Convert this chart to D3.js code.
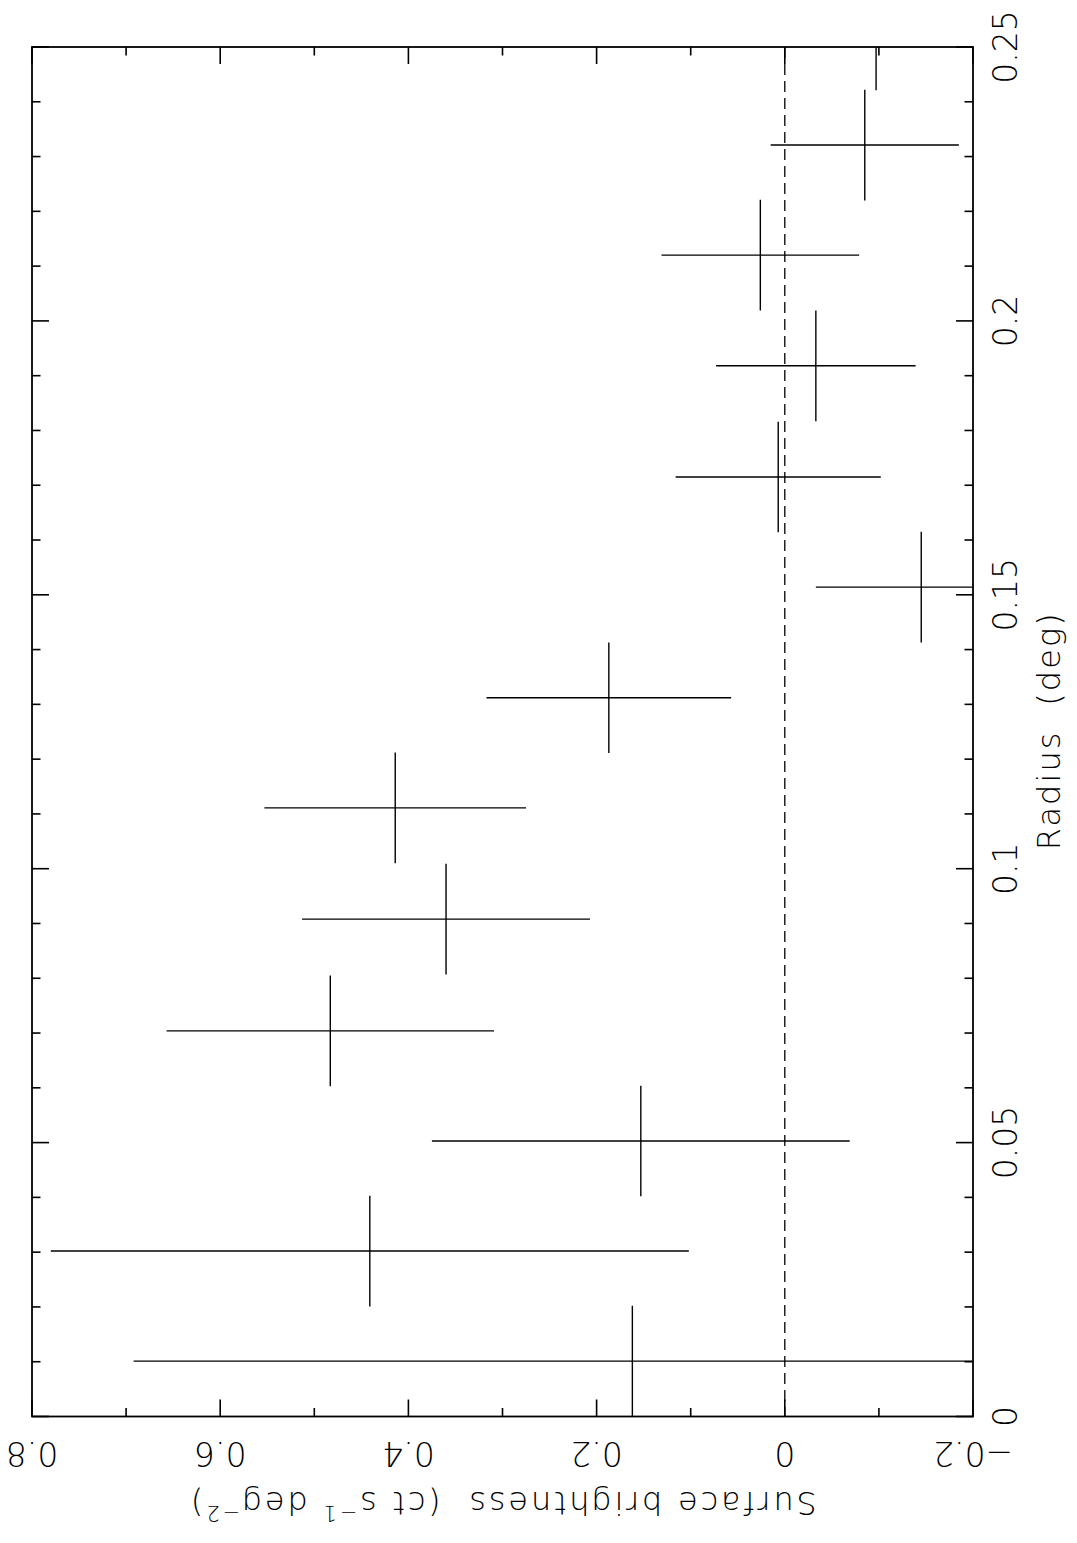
<!DOCTYPE html>
<html>
<head>
<meta charset="utf-8">
<script src="https://cdn.jsdelivr.net/npm/d3@7/dist/d3.min.js"></script>
<style>
  html, body { margin: 0; padding: 0; background: #fff; }
  svg text { font-family: "DejaVu Sans", "Liberation Sans", sans-serif; font-weight: 200; fill: #000; }
</style>
</head>
<body>
<svg id="chart" width="1077" height="1543"></svg>
<script>
// radius bins (deg) and their half widths
var radius = [0.0101, 0.0302, 0.0503, 0.0704, 0.0908, 0.1111, 0.1312, 0.1514, 0.1715, 0.1918, 0.2120, 0.2321, 0.2522];
var radiusErr = [0.0101, 0.0101, 0.0101, 0.0101, 0.0101, 0.0101, 0.0101, 0.0101, 0.0101, 0.0101, 0.0101, 0.0101, 0.0101];
// surface brightness (ct s^-1 deg^-2) and errors
var brightness = [0.162, 0.441, 0.153, 0.483, 0.360, 0.414, 0.187, -0.145, 0.007, -0.033, 0.026, -0.085, -0.097];
var brightnessErr = [0.530, 0.339, 0.222, 0.174, 0.153, 0.139, 0.130, 0.112, 0.109, 0.106, 0.105, 0.100, 0.100];

var radiusTicks = [0, 0.05, 0.1, 0.15, 0.2, 0.25];
var radiusLabels = ["0", "0.05", "0.1", "0.15", "0.2", "0.25"];
var brightTicks = [-0.2, 0, 0.2, 0.4, 0.6, 0.8];
var brightLabels = ["\u22120.2", "0", "0.2", "0.4", "0.6", "0.8"];

(function() {
	var svg = d3.select("#chart");

	// the plot is drawn turned on its side: radius runs up the page,
	// brightness runs right-to-left
	var fLeft = 32, fRight = 973, fTop = 47, fBottom = 1416.5;
	var yR = d3.scaleLinear().domain([0, 0.25]).range([fBottom, fTop]);
	var xB = d3.scaleLinear().domain([-0.2, 0.8]).range([fRight, fLeft]);

	svg.append("clipPath").attr("id", "frame")
		.append("rect")
		.attr("x", fLeft).attr("y", fTop)
		.attr("width", fRight - fLeft).attr("height", fBottom - fTop);

	var minorLen = 8.5, majorLen = 17;

	// radius ticks (left and right edges)
	var rt = svg.append("g").attr("stroke", "#000").attr("stroke-width", 1.6);
	d3.range(0, 0.2501, 0.01).forEach(function(v) {
		var isMajor = Math.abs(v / 0.05 - Math.round(v / 0.05)) < 1e-6;
		var len = isMajor ? majorLen : minorLen;
		var y = yR(v);
		rt.append("line").attr("x1", fLeft).attr("x2", fLeft + len).attr("y1", y).attr("y2", y);
		rt.append("line").attr("x1", fRight).attr("x2", fRight - len).attr("y1", y).attr("y2", y);
	});

	// brightness ticks (top and bottom edges)
	d3.range(-0.2, 0.8001, 0.1).forEach(function(v) {
		var isMajor = Math.abs(v / 0.2 - Math.round(v / 0.2)) < 1e-6;
		var len = isMajor ? majorLen : minorLen;
		var x = xB(v);
		rt.append("line").attr("x1", x).attr("x2", x).attr("y1", fBottom).attr("y2", fBottom - len);
		rt.append("line").attr("x1", x).attr("x2", x).attr("y1", fTop).attr("y2", fTop + len);
	});

	// frame
	svg.append("rect")
		.attr("x", fLeft).attr("y", fTop)
		.attr("width", fRight - fLeft).attr("height", fBottom - fTop)
		.attr("fill", "none").attr("stroke", "#000").attr("stroke-width", 1.8);

	// zero line
	svg.append("line")
		.attr("x1", xB(0)).attr("x2", xB(0))
		.attr("y1", fTop).attr("y2", fBottom)
		.attr("stroke", "#000").attr("stroke-width", 1.3)
		.attr("stroke-dasharray", "11,6");

	// error bars
	var bars = svg.append("g").attr("clip-path", "url(#frame)")
		.attr("stroke", "#000").attr("stroke-width", 1.4);
	var pts = d3.range(radius.length);
	bars.selectAll("line.h").data(pts).enter().append("line")
		.attr("class", "h")
		.attr("x1", function(i) { return xB(brightness[i] + brightnessErr[i]); })
		.attr("x2", function(i) { return xB(brightness[i] - brightnessErr[i]); })
		.attr("y1", function(i) { return yR(radius[i]); })
		.attr("y2", function(i) { return yR(radius[i]); });
	bars.selectAll("line.v").data(pts).enter().append("line")
		.attr("class", "v")
		.attr("x1", function(i) { return xB(brightness[i]); })
		.attr("x2", function(i) { return xB(brightness[i]); })
		.attr("y1", function(i) { return yR(radius[i] - radiusErr[i]); })
		.attr("y2", function(i) { return yR(radius[i] + radiusErr[i]); });

	// radius tick labels, read bottom-to-top
	svg.selectAll("text.rl").data(radiusTicks).enter().append("text")
		.attr("class", "rl")
		.attr("font-size", 33)
		.attr("text-anchor", "middle")
		.attr("transform", function(d) { return "translate(1017," + yR(d) + ") rotate(-90)"; })
		.text(function(d, i) { return radiusLabels[i]; });

	// brightness tick labels, upside down
	svg.selectAll("text.bl").data(brightTicks).enter().append("text")
		.attr("class", "bl")
		.attr("font-size", 33)
		.attr("text-anchor", "middle")
		.attr("transform", function(d) { return "translate(" + xB(d) + ",1442) rotate(180)"; })
		.text(function(d, i) { return brightLabels[i]; });

	// axis titles
	svg.append("text")
		.attr("font-size", 32)
		.attr("text-anchor", "middle")
		.attr("transform", "translate(1060," + yR(0.125) + ") rotate(-90)")
		.attr("textLength", 237).attr("lengthAdjust", "spacing")
		.text("Radius\u00a0\u00a0(deg)");

	var yl = svg.append("text")
		.attr("font-size", 32)
		.attr("letter-spacing", 2.8)
		.attr("text-anchor", "middle")
		.attr("transform", "translate(" + xB(0.3) + ",1492) rotate(180)");
	yl.append("tspan").text("Surface brightness\u00a0\u00a0(ct s");
	yl.append("tspan").attr("font-size", 21).attr("dy", -14).text("\u22121");
	yl.append("tspan").attr("dy", 14).text(" deg");
	yl.append("tspan").attr("font-size", 21).attr("dy", -14).text("\u22122");
	yl.append("tspan").attr("dy", 14).text(")");
})();
</script>
</body>
</html>
